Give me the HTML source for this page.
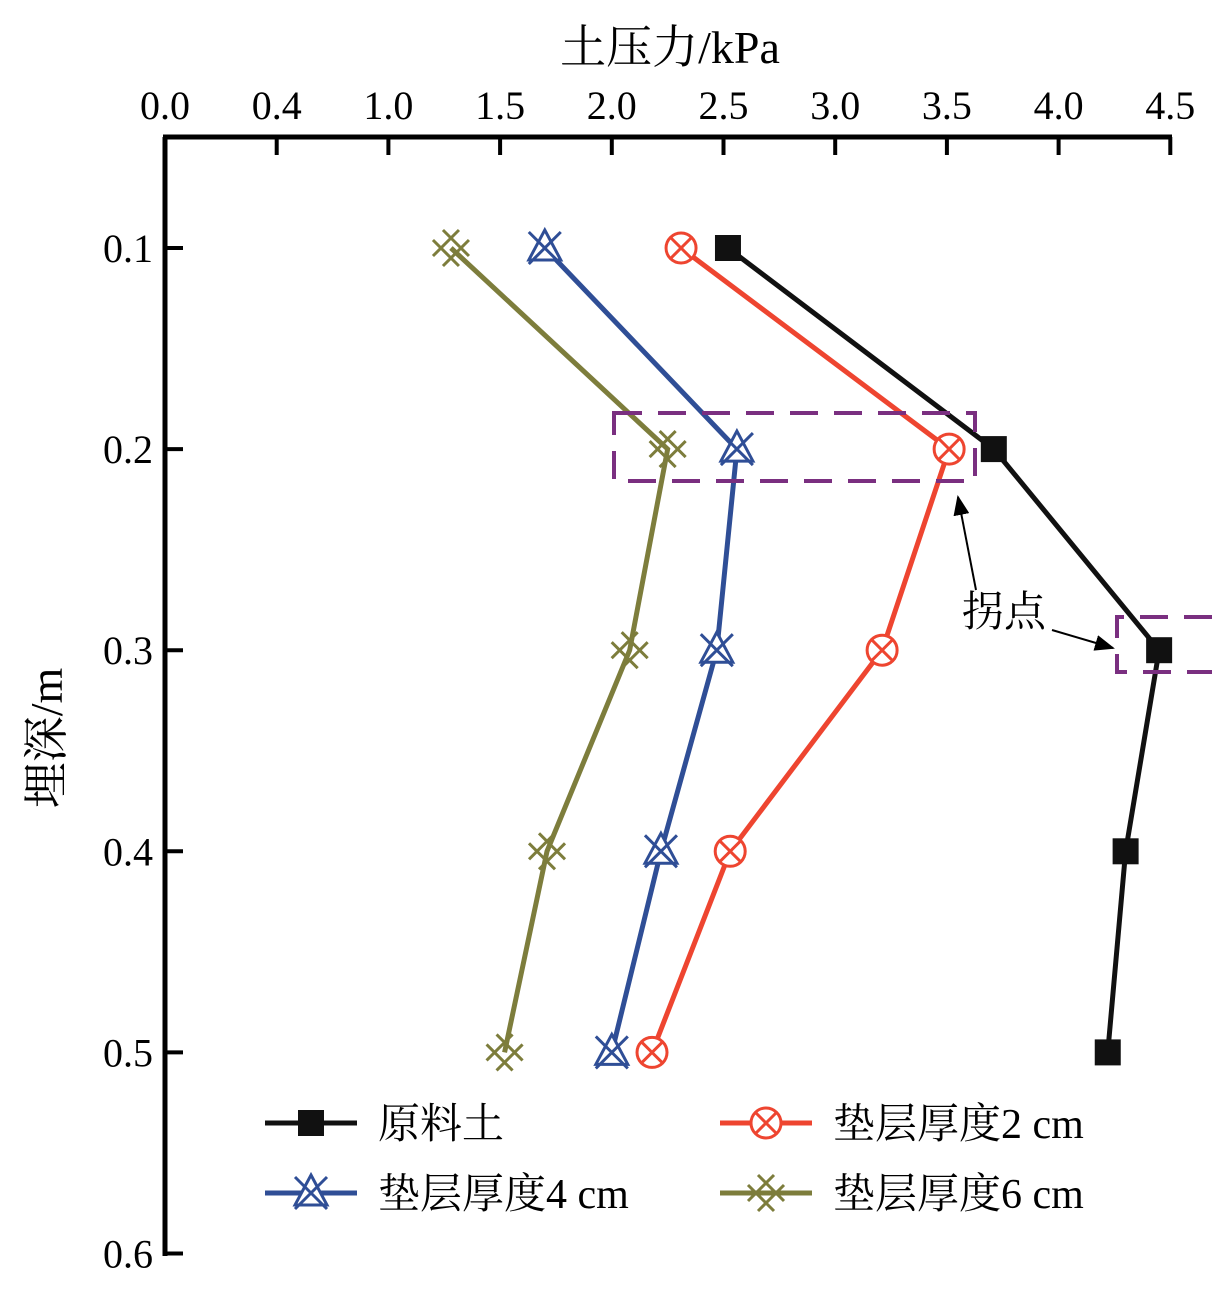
<!DOCTYPE html>
<html><head><meta charset="utf-8"><style>
body{margin:0;background:#fff}
svg{display:block;font-family:"Liberation Serif","Noto Serif CJK SC",serif}
</style></head><body>
<svg id="c" width="1227" height="1293" viewBox="0 0 1227 1293"></svg>
<script>
const depths=[0.1,0.2,0.3,0.4,0.5];
const seriesRaw=[2.52,3.71,4.45,4.30,4.22];
const series2cm=[2.31,3.51,3.21,2.53,2.18];
const series4cm=[1.70,2.56,2.47,2.22,2.00];
const series6cm=[1.28,2.25,2.08,1.71,1.52];
const xTickLabels=["0.0","0.4","1.0","1.5","2.0","2.5","3.0","3.5","4.0","4.5"];
const yTicks=[0.1,0.2,0.3,0.4,0.5,0.6];
const NS="http://www.w3.org/2000/svg";
const svg=document.getElementById('c');
const X=v=>165+v*223.4;
const Y=d=>248+(d-0.1)*2011;
function el(t,a,p){const e=document.createElementNS(NS,t);for(const k in a)e.setAttribute(k,a[k]);(p||svg).appendChild(e);return e;}
let a=el('line',{x1:165,y1:137,x2:165,y2:1256,stroke:'#000','stroke-width':5});


a=el('line',{x1:163,y1:137,x2:1172,y2:137,stroke:'#000','stroke-width':5});


xTickLabels.forEach((l,i)=>{
  const x=X(i*0.5);
  const t=el('line',{x1:x,y1:137,x2:x,y2:155,stroke:'#000','stroke-width':4});
  
  
  const tx=el('text',{x:x,y:119,'font-size':40,'text-anchor':'middle'});tx.textContent=l;
  
  
});
yTicks.forEach(d=>{
  const y=Y(d);
  const t=el('line',{x1:165,y1:y,x2:183,y2:y,stroke:'#000','stroke-width':4});
  
  
  const tx=el('text',{x:153,y:y+14,'font-size':40,'text-anchor':'end'});tx.textContent=d.toFixed(1);
  
  
});
let tt=el('text',{x:670,y:63,'font-size':46,'text-anchor':'middle'});tt.textContent='土压力/kPa';


tt=el('text',{x:0,y:0,'font-size':46,'text-anchor':'middle',transform:'translate(62,738) rotate(-90)'});tt.textContent='埋深/m';


function marker(type,x,y,col,g){
  if(type==='sq'){el('rect',{x:x-13,y:y-13,width:26,height:26,fill:col},g);}
  else if(type==='circ'){el('circle',{cx:x,cy:y,r:15,fill:'#fff',stroke:col,'stroke-width':3},g);
    el('path',{d:`M${x-10} ${y-10}L${x+10} ${y+10}M${x+10} ${y-10}L${x-10} ${y+10}`,stroke:col,'stroke-width':3},g);}
  else if(type==='tri'){el('path',{d:`M${x} ${y-18}L${x+16} ${y+12}L${x-16} ${y+12}Z`,fill:'#fff',stroke:col,'stroke-width':3},g);
    el('path',{d:`M${x-16} ${y-16}L${x+16} ${y+16}M${x+16} ${y-16}L${x-16} ${y+16}`,stroke:col,'stroke-width':3},g);}
  else {el('path',{d:`M${x-8} ${y-18}L${x+18} ${y+8}M${x-18} ${y-8}L${x+8} ${y+18}M${x+8} ${y-18}L${x-18} ${y+8}M${x+18} ${y-8}L${x-8} ${y+18}`,stroke:col,'stroke-width':3},g);}
}
const defs=[[seriesRaw,'#111','sq','series-raw-soil'],[series2cm,'#ee4530','circ','series-2cm'],[series4cm,'#2f4e96','tri','series-4cm'],[series6cm,'#7d7d3c','x','series-6cm']];
defs.forEach(([v,col,m,n])=>{
  const g=el('g',{});
  
  
  el('polyline',{points:v.map((p,i)=>X(p)+','+Y(depths[i])).join(' '),fill:'none',stroke:col,'stroke-width':5},g);
  v.forEach((p,i)=>marker(m,X(p),Y(depths[i]),col,g));
});
const pu='#7a2f80';
let b=el('rect',{x:614,y:413,width:361,height:68,fill:'none',stroke:pu,'stroke-width':4,'stroke-dasharray':'28 16'});


b=el('path',{d:'M1212 617H1117V672H1212',fill:'none',stroke:pu,'stroke-width':4,'stroke-dasharray':'28 16'});


el('defs',{}).innerHTML='<marker id="ah" markerWidth="10" markerHeight="8" refX="9" refY="4" orient="auto"><path d="M0 0L10 4L0 8Z" fill="#000"/></marker>';
b=el('line',{x1:976,y1:590,x2:958,y2:497,stroke:'#000','stroke-width':2,'marker-end':'url(#ah)'});


b=el('line',{x1:1052,y1:630,x2:1113,y2:648,stroke:'#000','stroke-width':2,'marker-end':'url(#ah)'});


tt=el('text',{x:962,y:626,'font-size':42});tt.textContent='拐点';


const leg=[['原料土',265,1123,0],['垫层厚度2 cm',720,1123,1],['垫层厚度4 cm',265,1193,2],['垫层厚度6 cm',720,1193,3]];
leg.forEach(([t,x,y,i])=>{
  const g=el('g',{});
  
  
  const [,col,m]=defs[i];
  el('line',{x1:x,y1:y,x2:x+92,y2:y,stroke:col,'stroke-width':5},g);
  marker(m,x+46,y,col,g);
  const tx=el('text',{x:x+113,y:y+15,'font-size':42},g);tx.textContent=t;
});
</script>
</body></html>
